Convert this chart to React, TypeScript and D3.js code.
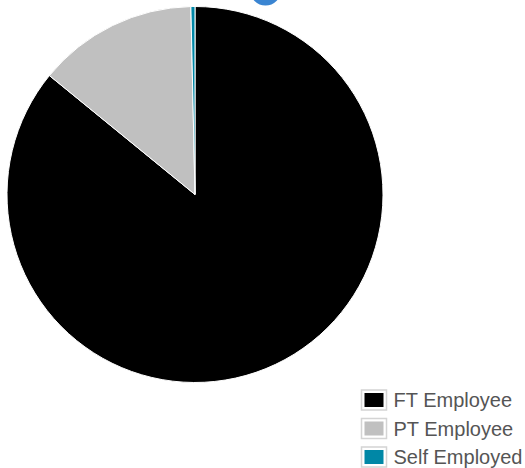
import React from "react";
import * as d3 from "d3";

const categories = ["FT Employee", "PT Employee", "Self Employed"];
const values = [85.9, 13.75, 0.35];
const colors = ["#000000", "#c0c0c0", "#0087a6"];

const W = 525;
const H = 468;

export default function App() {
  const cx = 195;
  const cy = 194.5;
  const r = 188;

  const pie = d3.pie<number>().sort(null).value((d) => d);
  const arcs = pie(values);
  const arc = d3.arc<d3.PieArcDatum<number>>().innerRadius(0).outerRadius(r);

  // legend rows
  const rowY = d3.scaleLinear().domain([0, 1]).range([390, 418.5]);

  return (
    <div style={{ position: "absolute", left: 0, top: 0 }}>
      <svg width={W} height={H} style={{ display: "block", background: "#fff" }}>
        <g transform={`translate(${cx},${cy})`}>
          {arcs.map((a, i) => (
            <path key={i} d={arc(a) || ""} fill={colors[i]} stroke="#fff" strokeWidth={1} />
          ))}
        </g>
        {/* blue badge cut off at the top of the page */}
        <circle cx={265.5} cy={-10} r={15.5} fill="#3a85d2" />
        <g fontFamily="'Liberation Sans', Arial, sans-serif" fontSize={20} fill="#555">
          {categories.map((c, i) => {
            const y = rowY(i);
            return (
              <g key={c}>
                <rect x={361.5} y={y} width={25} height={20} fill="#fff" stroke="#d4d4d4" strokeWidth={1.5} />
                <rect x={364.5} y={y + 3} width={19} height={14} fill={colors[i]} />
                <text x={393.5} y={y + 17}>{c}</text>
              </g>
            );
          })}
        </g>
      </svg>
    </div>
  );
}
